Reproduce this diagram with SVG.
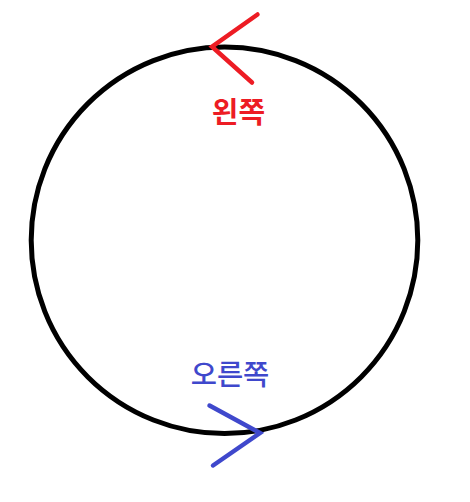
<svg xmlns="http://www.w3.org/2000/svg" width="470" height="502" viewBox="0 0 470 502">
<style>
.lbl{font-family:"Noto Sans CJK KR","Noto Sans CJK SC",sans-serif;text-anchor:middle}
.arrow{fill:none;stroke-width:4.5;stroke-linecap:round;stroke-linejoin:miter}
</style>
<rect width="470" height="502" fill="#fff"/>
<g id="circle">
<circle cx="224.5" cy="240.3" r="193.3" fill="none" stroke="#000" stroke-width="5"/>
</g>
<g id="connectors">
<polyline class="arrow" stroke="#ED1C24" points="257.5,14.5 212,46.7 252,82.5"/>
<polyline class="arrow" stroke="#3F48CC" points="209.5,405.5 260,433 213,465.5"/>
</g>
<g id="label-left">
<text class="lbl" x="238.5" y="123" font-size="29" font-weight="bold" fill="#ED1C24">왼쪽</text>
</g>
<g id="label-right">
<text class="lbl" x="230" y="385" font-size="28.5" font-weight="500" fill="#3F48CC">오른쪽</text>
</g>
</svg>
